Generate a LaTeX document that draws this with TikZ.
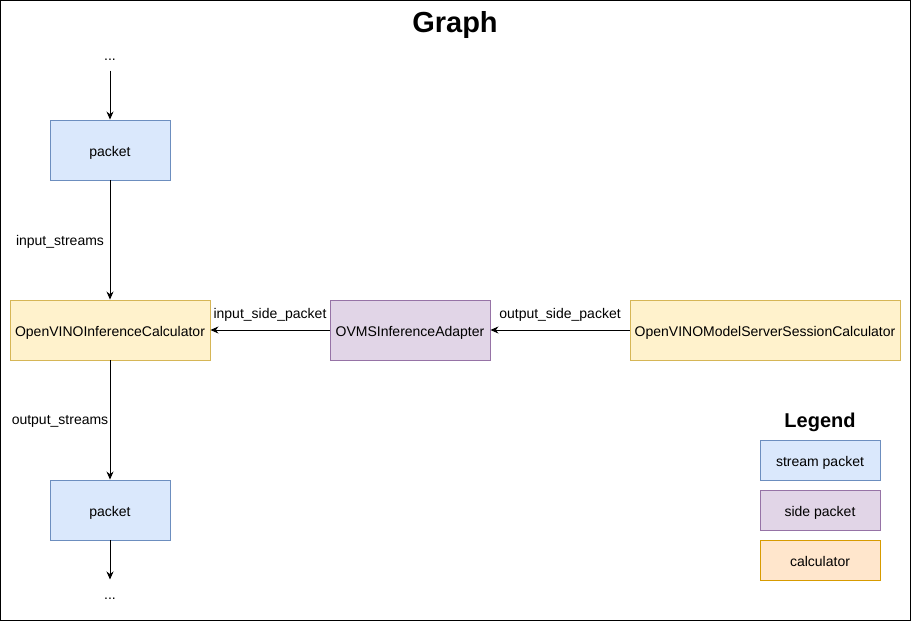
\documentclass[tikz,border=0pt]{standalone}
\usepackage{fontspec}
\setmainfont{Liberation Sans}
\usepackage{tikz}
\usetikzlibrary{shapes, positioning, arrows.meta}
\definecolor{streamfill}{HTML}{DAE8FC}
\definecolor{streamline}{HTML}{6C8EBF}
\definecolor{sidefill}{HTML}{E1D5E7}
\definecolor{sideline}{HTML}{9673A6}
\definecolor{calcfill}{HTML}{FFF2CC}
\definecolor{calcline}{HTML}{D6B656}
\definecolor{legfill}{HTML}{FFE6CC}
\definecolor{legline}{HTML}{D79B00}

\begin{document}
\begin{tikzpicture}[->, >={Stealth[length=8pt,width=7pt]}, x=1pt, y=-1pt, line width=1pt, font=\fontsize{14}{16}\selectfont]
\tikzstyle{box}=[draw, rectangle, line width=0.9pt, inner sep=0pt, minimum height=60pt, text height=13pt, text depth=0pt]
\tikzstyle{stream}=[box, draw=streamline, fill=streamfill, minimum width=120pt]
\tikzstyle{side}=[box, draw=sideline, fill=sidefill, minimum width=160pt]
\tikzstyle{calc}=[box, draw=calcline, fill=calcfill]
\tikzstyle{legbox}=[box, minimum width=120pt, minimum height=40pt]
\tikzstyle{dots}=[draw=none, inner sep=0pt, minimum width=20pt]
\useasboundingbox (0,0) rectangle (911,621);
\draw[-] (0.5,0.5) rectangle (910.5,620.5);

\node (title) at (455,25) {\fontsize{29}{34}\selectfont\bfseries Graph};

\node[dots, minimum height=20pt]    (topdots)   at (110,60)  {...};
\node[stream]                       (pktin)     at (110,150) {packet};
\node[calc, minimum width=200pt]    (infcalc)   at (110,330) {OpenVINOInferenceCalculator};
\node[side]                         (adapter)   at (410,330) {OVMSInferenceAdapter};
\node[calc, minimum width=270pt]    (session)   at (765,330) {OpenVINOModelServerSessionCalculator};
\node[stream]                       (pktout)    at (110,510) {packet};
\node[dots, minimum height=38pt]    (botdots)   at (110,599) {...};

\path
(topdots) edge (pktin)
(pktin)   edge node[xshift=-50pt, yshift=-2pt]{input\_streams} (infcalc)
(adapter) edge node[yshift=15pt]{input\_side\_packet} (infcalc)
(session) edge node[yshift=15pt]{output\_side\_packet} (adapter)
(infcalc) edge node[xshift=-50pt, yshift=-1pt]{output\_streams} (pktout)
(pktout)  edge (botdots);

\node (legend) at (820,422) {\fontsize{20}{24}\selectfont\bfseries Legend};
\node[legbox, draw=streamline, fill=streamfill] (legstream) at (820,460) {stream packet};
\node[legbox, draw=sideline, fill=sidefill]     (legside)   at (820,510) {side packet};
\node[legbox, draw=legline, fill=legfill]       (legcalc)   at (820,560) {calculator};
\end{tikzpicture}
\end{document}
